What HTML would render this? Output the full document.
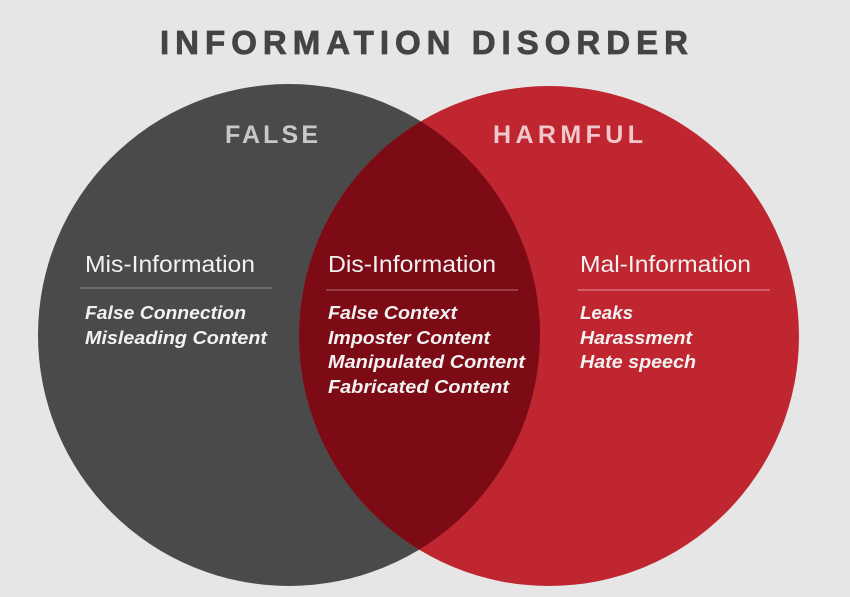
<!DOCTYPE html>
<html><head><meta charset="utf-8"><style>
html,body{margin:0;padding:0;background:#e6e6e6;}
svg{display:block;}
text{font-family:"Liberation Sans",sans-serif;}
</style></head><body>
<svg width="850" height="597" viewBox="0 0 850 597" xmlns="http://www.w3.org/2000/svg">
<rect width="850" height="597" fill="#e6e6e6"/>
<defs>
<clipPath id="lc"><circle cx="289" cy="335" r="251"/></clipPath>
</defs>
<circle cx="289" cy="335" r="251" fill="#4a4a4a"/>
<circle cx="549" cy="336" r="250" fill="#c0262f"/>
<circle cx="549" cy="336" r="250" fill="#7d0b16" clip-path="url(#lc)"/>
<text x="160" y="54" font-size="33" font-weight="bold" fill="#444" stroke="#444" stroke-width="0.8" textLength="528" lengthAdjust="spacing">INFORMATION DISORDER</text>
<text x="225" y="143" font-size="25" font-weight="bold" fill="#c8c8c8" textLength="93" lengthAdjust="spacing">FALSE</text>
<text x="493" y="143" font-size="25" font-weight="bold" fill="#f0c8cc" textLength="150" lengthAdjust="spacing">HARMFUL</text>
<g fill="#f2f2f2" font-size="23">
<text x="85" y="272" textLength="170" lengthAdjust="spacingAndGlyphs">Mis-Information</text>
<text x="328" y="272" textLength="168" lengthAdjust="spacingAndGlyphs">Dis-Information</text>
<text x="580" y="272" textLength="171" lengthAdjust="spacingAndGlyphs">Mal-Information</text>
</g>
<g stroke-width="1.5">
<line x1="80" y1="288" x2="272" y2="288" stroke="#777"/>
<line x1="326" y1="290" x2="518" y2="290" stroke="#a05058"/>
<line x1="578" y1="290" x2="770" y2="290" stroke="#d87078"/>
</g>
<g fill="#f2f2f2" font-size="18" font-style="italic" font-weight="bold">
<text x="85" y="319" textLength="161" lengthAdjust="spacingAndGlyphs">False Connection</text>
<text x="85" y="344" textLength="182" lengthAdjust="spacingAndGlyphs">Misleading Content</text>
<text x="328" y="319" textLength="129" lengthAdjust="spacingAndGlyphs">False Context</text>
<text x="328" y="344" textLength="162" lengthAdjust="spacingAndGlyphs">Imposter Content</text>
<text x="328" y="368" textLength="197" lengthAdjust="spacingAndGlyphs">Manipulated Content</text>
<text x="328" y="393" textLength="181" lengthAdjust="spacingAndGlyphs">Fabricated Content</text>
<text x="580" y="319" textLength="53" lengthAdjust="spacingAndGlyphs">Leaks</text>
<text x="580" y="344" textLength="112" lengthAdjust="spacingAndGlyphs">Harassment</text>
<text x="580" y="368" textLength="116" lengthAdjust="spacingAndGlyphs">Hate speech</text>
</g>
</svg>
</body></html>
